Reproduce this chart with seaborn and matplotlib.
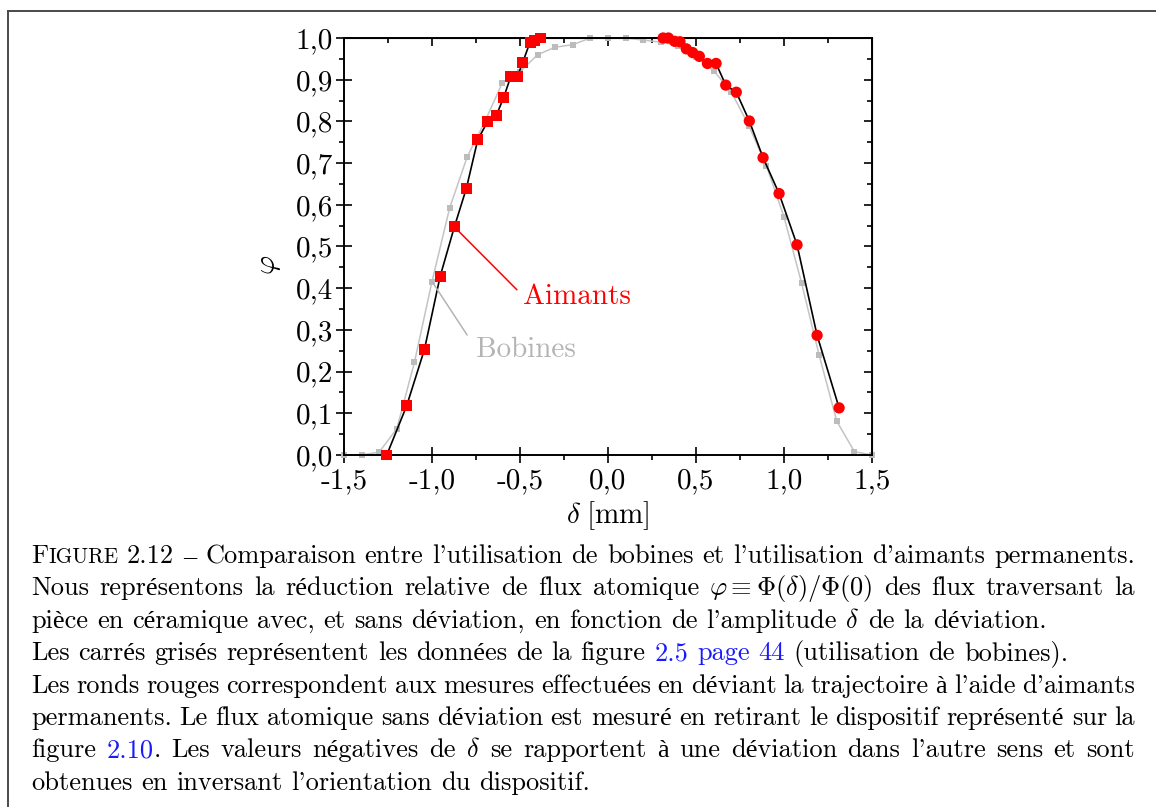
import numpy as np
import pandas as pd
import matplotlib
matplotlib.use("Agg")
import matplotlib.pyplot as plt
import seaborn as sb
from matplotlib.ticker import MultipleLocator, FuncFormatter, NullFormatter
from matplotlib.lines import Line2D

# coils (grey squares), 0.1 mm steps
bobines_x = [-1.5, -1.4, -1.3, -1.2, -1.1, -1.0, -0.9, -0.8, -0.7, -0.6, -0.5,
             -0.4, -0.3, -0.2, -0.1, 0.0, 0.1, 0.2, 0.3, 0.4, 0.5, 0.6, 0.7,
             0.8, 0.9, 1.0, 1.1, 1.2, 1.3, 1.4, 1.5]
bobines_phi = [0.0, 0.0, 0.007, 0.063, 0.222, 0.416, 0.592, 0.715, 0.799, 0.893, 0.919,
               0.960, 0.978, 0.984, 1.0, 1.0, 1.0, 0.995, 0.99, 0.982, 0.955, 0.922, 0.871,
               0.79, 0.694, 0.571, 0.412, 0.239, 0.081, 0.008, 0.0]

# magnets, negative deviation (red squares)
aimants_neg_x = [-1.257, -1.144, -1.043, -0.954, -0.873, -0.805, -0.740, -0.685,
                 -0.634, -0.593, -0.553, -0.515, -0.485, -0.443, -0.416, -0.386]
aimants_neg_phi = [0.0, 0.118, 0.253, 0.428, 0.547, 0.639, 0.756, 0.799,
                   0.815, 0.857, 0.907, 0.907, 0.941, 0.99, 0.993, 1.0]

# magnets, positive deviation (red circles)
aimants_pos_x = [0.313, 0.343, 0.379, 0.409, 0.445, 0.481, 0.519, 0.565, 0.614,
                 0.669, 0.729, 0.803, 0.881, 0.972, 1.074, 1.188, 1.313]
aimants_pos_phi = [1.0, 1.0, 0.992, 0.991, 0.974, 0.965, 0.956, 0.939, 0.939,
                   0.887, 0.870, 0.801, 0.713, 0.627, 0.504, 0.287, 0.113]

K = 'black'
B = '#1a1aff'
caption_lines = [
    [('F', K, 1.0), ('IGURE', K, 0.8),
     (" 2.12 – Comparaison entre l'utilisation de bobines et l'utilisation d'aimants permanents.", K, 1.0)],
    [(r"Nous représentons la réduction relative de flux atomique $\varphi\equiv\Phi(\delta)/\Phi(0)$ des flux traversant la", K, 1.0)],
    [(r"pièce en céramique avec, et sans déviation, en fonction de l'amplitude $\delta$ de la déviation.", K, 1.0)],
    [("Les carrés grisés représentent les données de la figure ", K, 1.0), ("2.5 page 44", B, 1.0),
     (" (utilisation de bobines).", K, 1.0)],
    [("Les ronds rouges correspondent aux mesures effectuées en déviant la trajectoire à l'aide d'aimants", K, 1.0)],
    [("permanents. Le flux atomique sans déviation est mesuré en retirant le dispositif représenté sur la", K, 1.0)],
    [("figure ", K, 1.0), ("2.10", B, 1.0),
     (r". Les valeurs négatives de $\delta$ se rapportent à une déviation dans l'autre sens et sont", K, 1.0)],
    [("obtenues en inversant l'orientation du dispositif.", K, 1.0)],
]
justified = [True, True, False, False, True, True, True, False]

W, H = 1156, 807
# cmr10 has no accented letters; those fall back to the serif below
plt.rcParams['font.family'] = ['cmr10', 'Liberation Serif']
plt.rcParams['mathtext.fontset'] = 'cm'
plt.rcParams['axes.unicode_minus'] = False

fig = plt.figure(figsize=(W / 100, H / 100), dpi=100)
ax = fig.add_axes([344 / W, 1 - 455 / H, 528 / W, 417 / H])

grey = '#c4c4c4'
sb.lineplot(x=bobines_x, y=bobines_phi, ax=ax, color=grey, linewidth=1.1, marker='s',
            markersize=4.6, markeredgewidth=0, markerfacecolor='#bcbcbc',
            estimator=None, sort=False, zorder=2, clip_on=False)
sb.lineplot(x=aimants_neg_x + aimants_pos_x, y=aimants_neg_phi + aimants_pos_phi, ax=ax,
            color='black', linewidth=1.2, estimator=None, sort=True, zorder=3, clip_on=False)
sb.scatterplot(x=aimants_neg_x, y=aimants_neg_phi, ax=ax, marker='s', s=62, color='red',
               edgecolor='none', linewidth=0, zorder=4, clip_on=False)
sb.scatterplot(x=aimants_pos_x, y=aimants_pos_phi, ax=ax, marker='o', s=66, color='red',
               edgecolor='none', linewidth=0, zorder=4, clip_on=False)

ax.set_xlim(-1.5, 1.5)
ax.set_ylim(0, 1)


def comma(v, pos):
    if abs(v) < 1e-9:
        v = 0.0
    return f"{v:.1f}".replace('.', ',')


ax.xaxis.set_major_locator(MultipleLocator(0.5))
ax.xaxis.set_minor_locator(MultipleLocator(0.25))
ax.yaxis.set_major_locator(MultipleLocator(0.1))
ax.yaxis.set_minor_locator(MultipleLocator(0.05))
ax.xaxis.set_major_formatter(FuncFormatter(comma))
ax.yaxis.set_major_formatter(FuncFormatter(comma))
ax.tick_params(which='major', direction='inout', length=11, width=1.2, labelsize=21,
               top=False, right=False)
ax.tick_params(which='minor', direction='out', length=3.5, width=1.2, top=False, right=False)
ax.tick_params(axis='x', which='major', pad=4)
ax.tick_params(axis='y', which='major', pad=2.5)
for sp in ax.spines.values():
    sp.set_linewidth(1.4)

top = ax.secondary_xaxis('top')
top.xaxis.set_major_locator(MultipleLocator(0.5))
top.xaxis.set_minor_locator(MultipleLocator(0.25))
top.xaxis.set_major_formatter(NullFormatter())
top.tick_params(which='major', direction='in', length=5.5, width=1.2)
top.tick_params(which='minor', direction='in', length=3.5, width=1.2)
right = ax.secondary_yaxis('right')
right.yaxis.set_major_locator(MultipleLocator(0.1))
right.yaxis.set_minor_locator(MultipleLocator(0.05))
right.yaxis.set_major_formatter(NullFormatter())
right.tick_params(which='major', direction='in', length=5.5, width=1.2)
right.tick_params(which='minor', direction='in', length=3.5, width=1.2)

ax.set_xlabel(r"$\delta\;$[mm]", fontsize=21, va='top')
ax.xaxis.set_label_coords(0.5, -0.105)
ax.set_ylabel(r"$\varphi$", fontsize=21)
ax.yaxis.set_label_coords(-0.115, 0.455)

ax.annotate('Aimants', xy=(aimants_neg_x[4], aimants_neg_phi[4]), xytext=(-0.485, 0.362),
            ha='left', va='baseline', color='red', fontsize=21,
            arrowprops=dict(arrowstyle='-', color='red', lw=1.1, shrinkA=3, shrinkB=0,
                            relpos=(0, 0.55)))
ax.annotate('Bobines', xy=(bobines_x[5], bobines_phi[5]), xytext=(-0.75, 0.235),
            ha='left', va='baseline', color='#b4b4b4', fontsize=21,
            arrowprops=dict(arrowstyle='-', color='#b4b4b4', lw=1.1, shrinkA=8, shrinkB=0,
                            relpos=(0, 0.55)))

# page frame (top and left rules)
fig.add_artist(Line2D([7.5 / W, 7.5 / W], [0, 1 - 10.5 / H], transform=fig.transFigure,
                      color='#4a4a4a', lw=1.4))
fig.add_artist(Line2D([7.5 / W, 1], [1 - 10.5 / H, 1 - 10.5 / H], transform=fig.transFigure,
                      color='#4a4a4a', lw=1.4))


# caption, set word by word so the justified lines fill the width
def split_words(runs):
    words = [[]]
    for text, color, scale in runs:
        for i, chunk in enumerate(text.split(' ')):
            if i > 0:
                words.append([])
            if chunk:
                words[-1].append((chunk, color, scale))
    return [w for w in words if w]


cap_size = 19
x_left, x_right = 31, 1135
first_base, line_step = 563, 32.4
space = 0.333 * cap_size * 100 / 72
renderer = fig.canvas.get_renderer()
for row, runs in enumerate(caption_lines):
    y = 1 - (first_base + row * line_step) / H
    words = []
    for w in split_words(runs):
        parts = [fig.text(0, y, c, color=col, fontsize=cap_size * sc,
                          ha='left', va='baseline') for c, col, sc in w]
        widths = [p.get_window_extent(renderer).width for p in parts]
        words.append((parts, widths))
    total = sum(sum(ws) for _, ws in words)
    gap = (x_right - x_left - total) / (len(words) - 1) if justified[row] else space
    x = x_left
    for parts, widths in words:
        for p, wd in zip(parts, widths):
            p.set_x(x / W)
            x += wd
        x += gap

plt.savefig('out.png', dpi=100)
